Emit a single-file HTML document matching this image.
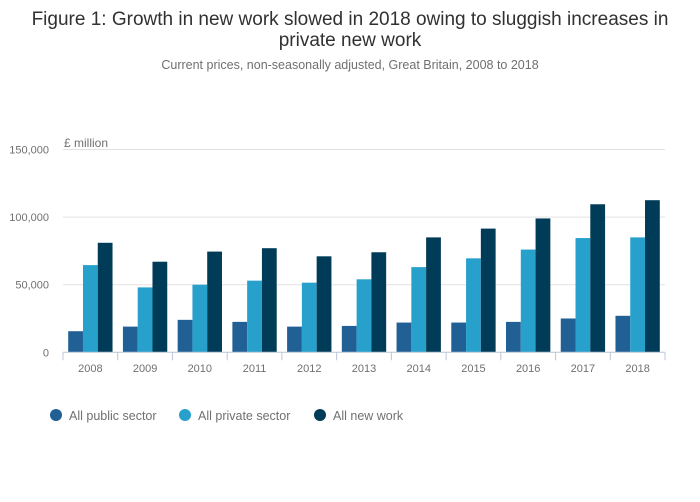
<!DOCTYPE html>
<html><head><meta charset="utf-8"><style>
body{margin:0;background:#fff;font-family:"Liberation Sans",sans-serif}
</style></head><body>
<svg id="c" width="700" height="502" style="display:block">
<text x="350" y="25" text-anchor="middle" font-size="19" fill="#323132">Figure 1: Growth in new work slowed in 2018 owing to sluggish increases in</text>
<text x="350" y="46" text-anchor="middle" font-size="19" fill="#323132">private new work</text>
<text x="350" y="69" text-anchor="middle" font-size="12.5" fill="#707071">Current prices, non-seasonally adjusted, Great Britain, 2008 to 2018</text>
<text x="64" y="147" font-size="12" fill="#707071">£ million</text>
<g id="grid"></g><g id="bars"></g><g id="xaxis"></g>
<g>
<circle cx="56" cy="415" r="6" fill="#206095"/>
<text x="69" y="420" font-size="12.5" fill="#707071">All public sector</text>
<circle cx="185" cy="415" r="6" fill="#27a0cc"/>
<text x="198" y="420" font-size="12.5" fill="#707071">All private sector</text>
<circle cx="320" cy="415" r="6" fill="#003c57"/>
<text x="333" y="420" font-size="12.5" fill="#707071">All new work</text>
</g>
</svg>
<script>
const categories=["2008","2009","2010","2011","2012","2013","2014","2015","2016","2017","2018"];
const publicSector=[15600,19000,24000,22500,19000,19500,22000,22000,22500,25000,27000];
const privateSector=[64500,48000,50000,53000,51500,54000,63000,69500,76000,84500,85000];
const allNewWork=[81000,67000,74500,77000,71000,74000,85000,91500,99000,109500,112500];
const yTicks=[0,50000,100000,150000];
const yTickLabels=["0","50,000","100,000","150,000"];
const NS="http://www.w3.org/2000/svg";
const x0=63,x1=665,y0=352.3,y150=149.5;
const y=v=>y0-(v/150000)*(y0-y150);
const bw=(x1-x0)/categories.length;
function mk(t,a,p){const e=document.createElementNS(NS,t);for(const k in a)e.setAttribute(k,a[k]);p.appendChild(e);return e;}
const grid=document.getElementById('grid');
yTicks.forEach((t,i)=>{
 if(t>0){const l=mk('line',{x1:x0,x2:x1,y1:y(t),y2:y(t),stroke:'#e2e2e3'},grid);
 
 }
 const tx=mk('text',{x:49,y:y(t)+4,'text-anchor':'end','font-size':'11','fill':'#707071'},grid);
 tx.textContent=yTickLabels[i];
 
 
});
const bars=document.getElementById('bars');
const series=[[publicSector,'#206095','public'],[privateSector,'#27a0cc','private'],[allNewWork,'#003c57','all']];
const inner=bw*0.81,sw=inner/3;
categories.forEach((c,i)=>{
 const gx=x0+i*bw+(bw-inner)/2;
 series.forEach((s,j)=>{
  const v=s[0][i];
  const r=mk('rect',{x:gx+j*sw,y:y(v),width:sw,height:y0-y(v),fill:s[1]},bars);
  
  
 });
});
const xa=document.getElementById('xaxis');
const al=mk('line',{x1:x0,x2:x1,y1:y0,y2:y0,stroke:'#bcc6d9'},xa);


for(let i=0;i<=categories.length;i++){
 const tk=mk('line',{x1:x0+i*bw,x2:x0+i*bw,y1:y0,y2:y0+8,stroke:'#bcc6d9'},xa);
 
 
}
categories.forEach((c,i)=>{
 const t=mk('text',{x:x0+(i+0.5)*bw,y:372,'text-anchor':'middle','font-size':'11','fill':'#707071'},xa);
 t.textContent=c;
 
 
});
</script>
</body></html>
